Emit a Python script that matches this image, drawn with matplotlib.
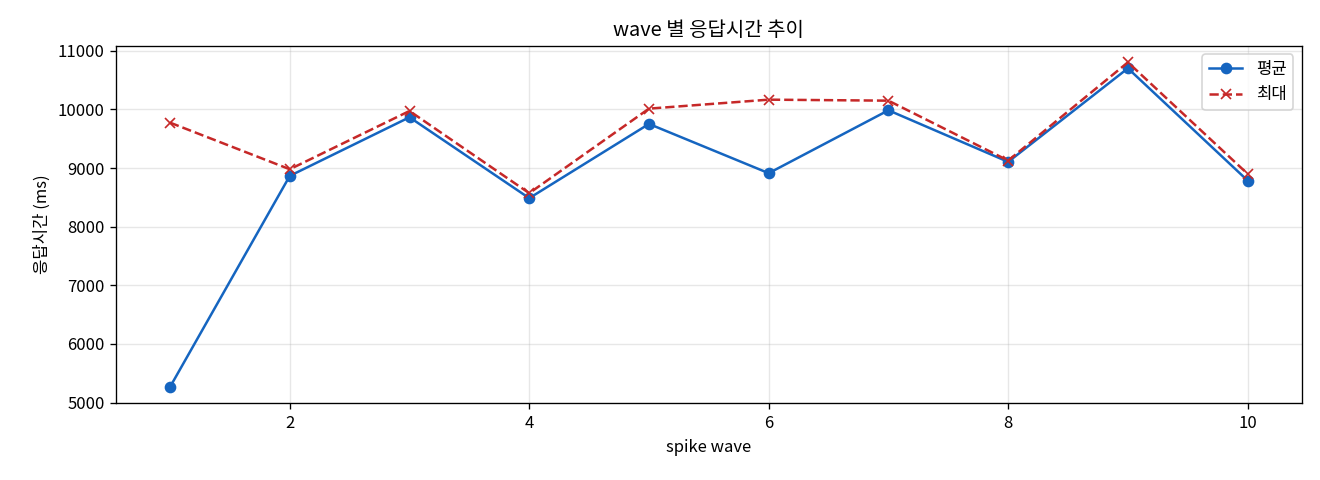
import matplotlib
matplotlib.use("Agg")
import matplotlib.pyplot as plt

plt.rcParams["font.family"] = ["Noto Sans CJK KR", "DejaVu Sans"]
plt.rcParams["axes.unicode_minus"] = False

# wave 별 응답시간 (ms)
waves = [1, 2, 3, 4, 5, 6, 7, 8, 9, 10]
avg_ms = [5267, 8867, 9867, 8487, 9753, 8913, 9986, 9106, 10702, 8787]
max_ms = [9775, 8980, 9974, 8572, 10014, 10167, 10150, 9128, 10804, 8901]

fig, ax = plt.subplots(figsize=(11, 4), dpi=120)
ax.plot(waves, avg_ms, marker="o", color="#1565C0", linewidth=1.5, markersize=6, label="평균")
ax.plot(waves, max_ms, marker="x", linestyle="--", color="#C62828", linewidth=1.5, markersize=6, label="최대")
ax.set_title("wave 별 응답시간 추이")
ax.set_xlabel("spike wave")
ax.set_ylabel("응답시간 (ms)")
ax.grid(True, alpha=0.3)
ax.legend(loc="upper right")
fig.subplots_adjust(left=0.088, right=0.986, top=0.904, bottom=0.16)
plt.savefig("out.png", dpi=120)
plt.close()
